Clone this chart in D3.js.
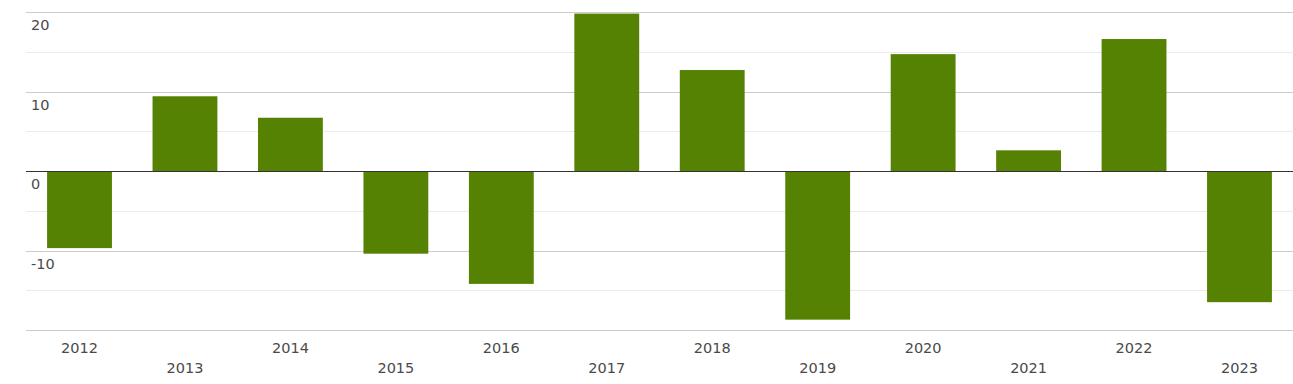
<!DOCTYPE html>
<html>
<head>
<meta charset="utf-8">
<script src="https://cdn.jsdelivr.net/npm/d3@7"></script>
<style>
  body { margin: 0; background: #fff; }
  text { font-family: "DejaVu Sans", sans-serif; font-size: 14.5px; fill: #4a4a4a; }
</style>
</head>
<body>
<script>
// values
var years = ["2012", "2013", "2014", "2015", "2016", "2017", "2018", "2019", "2020", "2021", "2022", "2023"];
var values = [-9.7, 9.4, 6.7, -10.4, -14.2, 19.8, 12.7, -18.7, 14.7, 2.6, 16.6, -16.5];
var majorTicks = [20, 10, 0, -10, -20];
var minorTicks = [15, 5, -5, -15];
var tickLabels = ["20", "10", "0", "-10"];

var W = 1293, H = 384;
var margin = { top: 12, bottom: 54, left: 26, right: 0 };

var svg = d3.select("body").append("svg")
    .attr("width", W)
    .attr("height", H);

var x = d3.scaleBand()
    .domain(years)
    .range([margin.left, W - margin.right])
    .paddingInner(0.385)
    .paddingOuter(0.2);

var y = d3.scaleLinear()
    .domain([-20, 20])
    .range([H - margin.bottom, margin.top]);

// minor grid
svg.append("g").selectAll("line")
    .data(minorTicks)
    .enter().append("line")
    .attr("x1", margin.left).attr("x2", W)
    .attr("y1", function(d) { return Math.round(y(d)) + 0.5; })
    .attr("y2", function(d) { return Math.round(y(d)) + 0.5; })
    .style("stroke", "#ebebeb");

// major grid
svg.append("g").selectAll("line")
    .data(majorTicks.filter(function(d) { return d !== 0; }))
    .enter().append("line")
    .attr("x1", margin.left).attr("x2", W)
    .attr("y1", function(d) { return Math.round(y(d)) + 0.5; })
    .attr("y2", function(d) { return Math.round(y(d)) + 0.5; })
    .style("stroke", "#cccccc");

// tick labels sit just under their grid line
svg.append("g").selectAll("text")
    .data(tickLabels)
    .enter().append("text")
    .attr("x", 31)
    .attr("y", function(d) { return y(+d) + 18; })
    .text(function(d) { return d; });

// bars
svg.append("g").selectAll("rect")
    .data(values)
    .enter().append("rect")
    .attr("x", function(d, i) { return x(years[i]); })
    .attr("width", x.bandwidth())
    .attr("y", function(d) { return y(Math.max(0, d)); })
    .attr("height", function(d) { return Math.abs(y(d) - y(0)); })
    .style("fill", "#568203");

// zero line
svg.append("line")
    .attr("x1", margin.left).attr("x2", W)
    .attr("y1", Math.round(y(0)) + 0.5)
    .attr("y2", Math.round(y(0)) + 0.5)
    .style("stroke", "#333");

// year labels, staggered on two rows
svg.append("g").selectAll("text")
    .data(years)
    .enter().append("text")
    .attr("x", function(d) { return x(d) + x.bandwidth() / 2; })
    .attr("y", function(d, i) { return i % 2 === 0 ? 353 : 373; })
    .attr("text-anchor", "middle")
    .text(function(d) { return d; });
</script>
</body>
</html>
